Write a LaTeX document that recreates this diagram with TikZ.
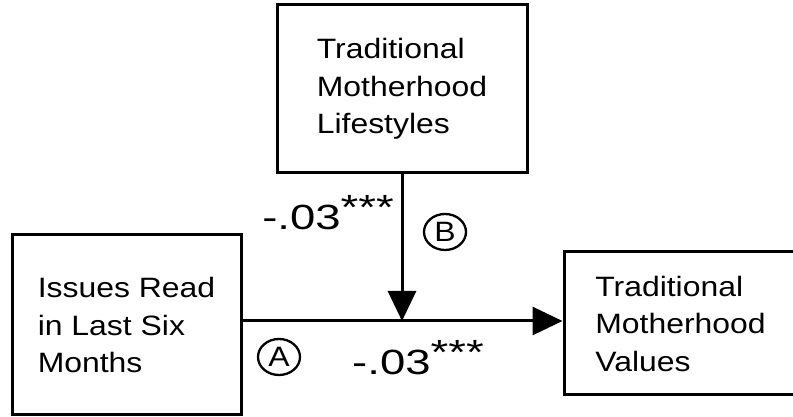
\documentclass[tikz,border=0pt]{standalone}
\usepackage{fontspec}
\setmainfont{Liberation Sans}[FakeStretch=1.14]
\newfontfamily\coeffont{Liberation Sans}[FakeStretch=1.3]
\usetikzlibrary{arrows.meta,shapes.geometric}
\tikzset{box/.style={draw,line width=3pt,align=left,inner sep=0pt,
    font=\fontsize{28}{37.5}\selectfont},
  path arrow/.style={line width=3pt,-{Triangle[length=30pt,width=28pt]}},
  coef/.style={inner sep=0pt,font=\coeffont\fontsize{35}{40}\selectfont},
  marker/.style={draw,ellipse,line width=2.3pt,minimum width=42pt,
    minimum height=36pt,inner sep=0pt,font=\fontsize{28}{30}\selectfont}
}
\newcommand{\sigstars}{\raisebox{10pt}{***}}

\begin{document}
\begin{tikzpicture}[x=1pt,y=1pt]
        \clip (0,0) rectangle (793,417);
        \coordinate (join) at (402,96);
        \node[box,minimum width=250pt,minimum height=168pt] (lifestyles) at (402,328)   {Traditional\\Motherhood\\Lifestyles};
        \node[box,minimum width=229pt,minimum height=180pt] (issues)     at (126.5,92)  {Issues Read\\in Last Six\\Months};
        \node[box,minimum width=233pt,minimum height=143pt] (values)     at (680.5,93.5) {Traditional\\Motherhood\\Values};

        \draw[path arrow] (lifestyles) -- (join);
        \draw[path arrow] (join -| issues.east) -- (join -| values.west);

        \node[coef,anchor=base east] (b coef) at (394,187) {-.03\sigstars};
        \node[marker]                (b mark) at (445,185) {B};
        \node[marker]                (a mark) at (279,60)  {A};
        \node[coef,anchor=base west] (a coef) at (352,42)  {-.03\sigstars};
      \end{tikzpicture}
\end{document}
